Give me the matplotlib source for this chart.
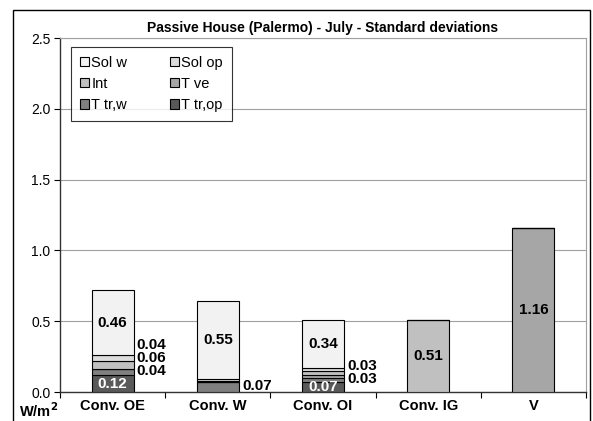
import numpy as np
import matplotlib
matplotlib.use("Agg")
import matplotlib.pyplot as plt
from matplotlib.patches import Rectangle

plt.rcParams['font.family'] = ['Liberation Sans', 'DejaVu Sans']

# data (W/m2)
categories = ["Conv. OE", "Conv. W", "Conv. OI", "Conv. IG", "V"]
series_names = ["T tr,op", "T tr,w", "T ve", "Int", "Sol op", "Sol w"]  # bottom -> top
t_tr_op = [0.12, 0.00, 0.07, 0.00, 0.00]
t_tr_w = [0.04, 0.07, 0.03, 0.00, 0.00]
t_ve = [0.00, 0.00, 0.02, 0.00, 1.16]
internal = [0.06, 0.01, 0.03, 0.51, 0.00]
sol_op = [0.04, 0.01, 0.02, 0.00, 0.00]
sol_w = [0.46, 0.55, 0.34, 0.00, 0.00]
stack = [t_tr_op, t_tr_w, t_ve, internal, sol_op, sol_w]
colors = ["#595959", "#808080", "#a6a6a6", "#c0c0c0", "#dcdcdc", "#f2f2f2"]

fig = plt.figure(figsize=(5.93, 4.21), dpi=100)
# outer chart frame
fig.patches.append(Rectangle((13 / 593, -0.01), 577 / 593, 1.01 - 10 / 421,
                             transform=fig.transFigure, fill=False,
                             edgecolor="black", linewidth=1.0))
ax = fig.add_axes([60 / 593, 29 / 421, 526 / 593, 354 / 421])

x = np.arange(len(categories))
bottom = np.zeros(len(categories))
bars = []
for name, vals, col in zip(series_names, stack, colors):
    vals = np.array(vals)
    ax.bar(x, vals, 0.4, bottom=bottom, color=col, edgecolor="black",
           linewidth=0.8, label=name, zorder=3)
    bars.append((name, vals, bottom.copy()))
    bottom += vals

# value labels
for i in range(len(categories)):
    prev = -1
    for name, vals, bot in bars:
        v = vals[i]
        if v <= 0:
            continue
        center = bot[i] + v / 2
        if name == "T tr,op":
            ax.text(x[i], center, f"{v:.2f}", ha="center", va="center",
                    color="white", fontsize=11, fontweight="bold", zorder=5)
        elif v >= 0.1:
            ax.text(x[i], center, f"{v:.2f}", ha="center", va="center",
                    color="black", fontsize=11, fontweight="bold", zorder=5)
        elif v >= 0.03:
            # small segments: label beside the bar, stacked upwards
            y = max(center + 0.01, prev + 0.09)
            prev = y
            ax.text(x[i] + 0.23, y, f"{v:.2f}", ha="left", va="center",
                    color="black", fontsize=11, fontweight="bold", zorder=5)

ax.set_xlim(-0.5, len(categories) - 0.5)
ax.set_ylim(0, 2.5)
ax.set_yticks(np.arange(0, 2.51, 0.5))
ax.set_yticklabels([f"{v:.1f}" for v in np.arange(0, 2.51, 0.5)], fontsize=10)
ax.set_xticks(x)
ax.set_xticklabels(categories, fontsize=10.5, fontweight="bold")
ax.set_xticks(np.arange(-0.5, len(categories)), minor=True)
ax.tick_params(axis="x", which="major", length=0, pad=5)
ax.tick_params(axis="x", which="minor", length=4, direction="out", width=0.8)
ax.tick_params(axis="y", length=4, direction="out", width=0.8, pad=3)
ax.yaxis.grid(True, color="#a0a0a0", linewidth=0.8, zorder=0)
ax.set_axisbelow(True)
for s in ["top", "right"]:
    ax.spines[s].set_color("#a0a0a0")
    ax.spines[s].set_linewidth(0.8)
for s in ["left", "bottom"]:
    ax.spines[s].set_color("#333333")
    ax.spines[s].set_linewidth(1.0)

ax.set_title("Passive House (Palermo) - July - Standard deviations",
             fontsize=10, fontweight="bold", pad=4)
fig.text(39 / 593, 10 / 421, "W/m$^\\mathbf{2}$", ha="center", va="center",
         fontsize=10.5, fontweight="bold")

# legend filled row by row: Sol w, Sol op / Int, T ve / T tr,w, T tr,op
handles, labels = ax.get_legend_handles_labels()
order = [5, 3, 1, 4, 2, 0]
leg = ax.legend([handles[k] for k in order], [labels[k] for k in order],
                loc="upper left", bbox_to_anchor=(0.021, 0.975), ncol=2,
                fontsize=10.5, frameon=True, fancybox=False, edgecolor="black",
                handlelength=0.6, handleheight=0.6, handletextpad=0.2,
                columnspacing=2.9, labelspacing=0.5, borderpad=0.6,
                borderaxespad=0)
leg.get_frame().set_linewidth(0.8)

fig.savefig("out.png", dpi=100)
